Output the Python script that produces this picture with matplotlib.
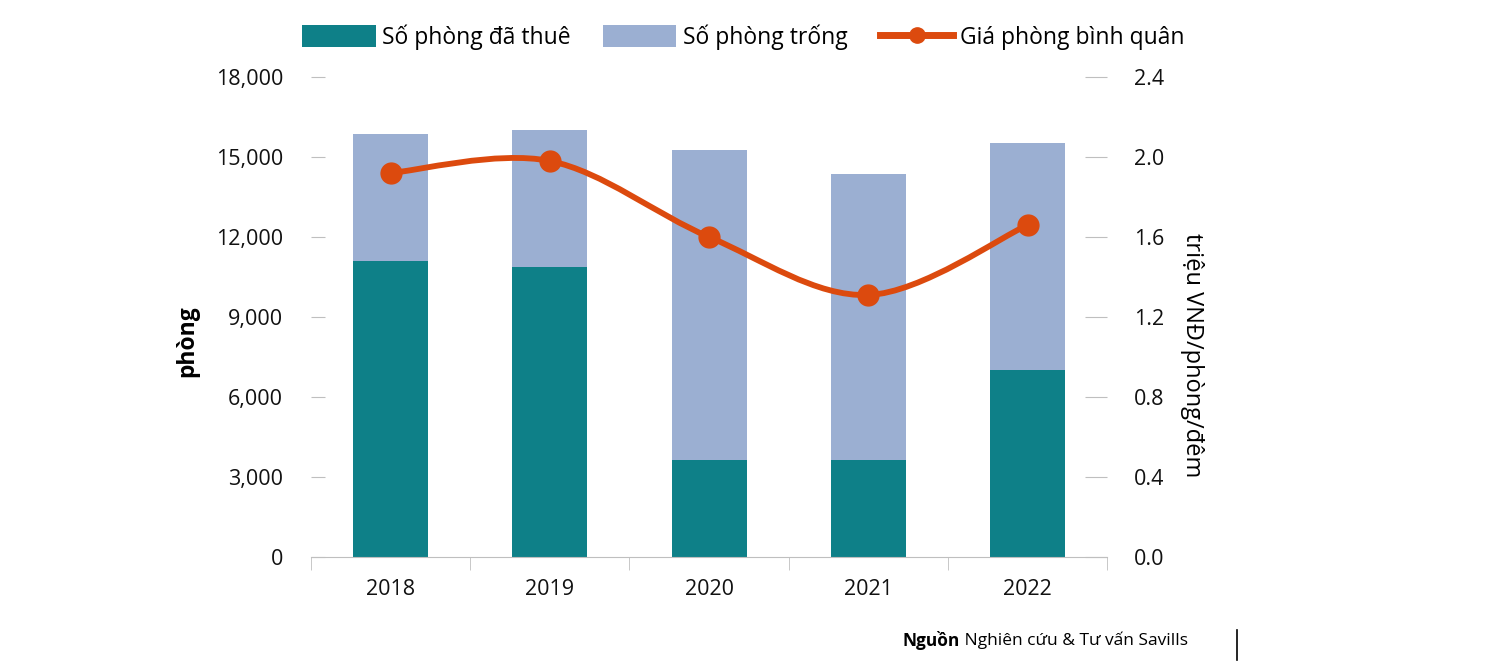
import matplotlib.pyplot as plt
from matplotlib.path import Path
from matplotlib.patches import PathPatch
from matplotlib.lines import Line2D
from matplotlib.ticker import FuncFormatter

plt.rcParams['font.family'] = ['Open Sans', 'DejaVu Sans']

years = ['2018', '2019', '2020', '2021', '2022']
occupied = [11100, 10880, 3640, 3650, 7020]
vacant = [4760, 5130, 11620, 10720, 8500]
avg_price = [1.92, 1.98, 1.60, 1.31, 1.66]

c_occ = '#0E8088'
c_vac = '#9BAFD2'
c_line = '#DC4A0E'

fig = plt.figure(figsize=(14.96, 6.67), dpi=100)
ax = fig.add_axes([0.2079, 0.1649, 0.5322, 0.7197])
ax2 = ax.twinx()

x = list(range(len(years)))
ax.bar(x, occupied, width=0.47, color=c_occ, label='Số phòng đã thuê')
ax.bar(x, vacant, width=0.47, bottom=occupied, color=c_vac, label='Số phòng trống')

# smoothed line (Bezier through the points, Excel style)
verts = [(x[0], avg_price[0])]
codes = [Path.MOVETO]
n = len(x)
for i in range(n - 1):
    p0 = (x[max(i - 1, 0)], avg_price[max(i - 1, 0)])
    p1 = (x[i], avg_price[i])
    p2 = (x[i + 1], avg_price[i + 1])
    p3 = (x[min(i + 2, n - 1)], avg_price[min(i + 2, n - 1)])
    c1 = (p1[0] + (p2[0] - p0[0]) / 6, p1[1] + (p2[1] - p0[1]) / 6)
    c2 = (p2[0] - (p3[0] - p1[0]) / 6, p2[1] - (p3[1] - p1[1]) / 6)
    verts += [c1, c2, p2]
    codes += [Path.CURVE4] * 3
ax2.add_patch(PathPatch(Path(verts, codes), facecolor='none', edgecolor=c_line,
                        lw=4.2, zorder=3, capstyle='round'))
ax2.plot(x, avg_price, 'o', color=c_line, ms=15, zorder=4)

ax.set_xlim(-0.5, 4.5)
ax.set_ylim(0, 18000)
ax2.set_ylim(0, 2.4)
ax.set_yticks(range(0, 18001, 3000))
ax.yaxis.set_major_formatter(FuncFormatter(lambda v, p: f'{int(v):,}'))
ax2.set_yticks([0, 0.4, 0.8, 1.2, 1.6, 2.0, 2.4])
ax2.yaxis.set_major_formatter(FuncFormatter(lambda v, p: f'{v:.1f}'))
ax.set_xticks(x)
ax.set_xticklabels(years)
ax.set_xticks([i - 0.5 for i in range(len(years) + 1)], minor=True)

for a in (ax, ax2):
    for s in ('top', 'left', 'right'):
        a.spines[s].set_visible(False)
ax2.spines['bottom'].set_visible(False)
ax.spines['bottom'].set_color('#BFBFBF')

ax.tick_params(axis='y', direction='in', length=10, color='#BFBFBF', pad=20,
               labelsize=15.5, labelcolor='#111111')
ax2.tick_params(axis='y', direction='in', length=16, color='#BFBFBF', pad=19,
                labelsize=15.5, labelcolor='#111111')
ax.tick_params(axis='x', which='major', length=0, pad=16, labelsize=15.5,
               labelcolor='#111111')
ax.tick_params(axis='x', which='minor', length=9, color='#BFBFBF')

ax.set_ylabel('phòng', fontsize=16.5, fontweight='bold')
ax.yaxis.set_label_coords(-0.14, 0.45)
ax2.set_ylabel('triệu VNĐ/phòng/đêm', fontsize=17, rotation=270)
ax2.yaxis.set_label_coords(1.122, 0.42)

h1, l1 = ax.get_legend_handles_labels()
h2 = [Line2D([], [], color=c_line, lw=5, marker='o', ms=11)]
fig.legend(h1 + h2, l1 + ['Giá phòng bình quân'], loc='center',
           bbox_to_anchor=(0.497, 0.944), ncol=3, frameon=False, fontsize=16.5,
           handlelength=3.2, handleheight=1.1, columnspacing=1.4, handletextpad=0.3)

src = fig.text(0.6036, 0.04, 'Nguồn', fontsize=12.5, fontweight='bold',
               va='center', ha='left')
ax.annotate(' Nghiên cứu & Tư vấn Savills', xy=(1, 0.5), xycoords=src,
            va='center', ha='left', fontsize=12.5)
fig.add_artist(Line2D([0.8268, 0.8268], [0.01, 0.055], color='black', lw=1.2))

fig.savefig('out.png', dpi=100)
